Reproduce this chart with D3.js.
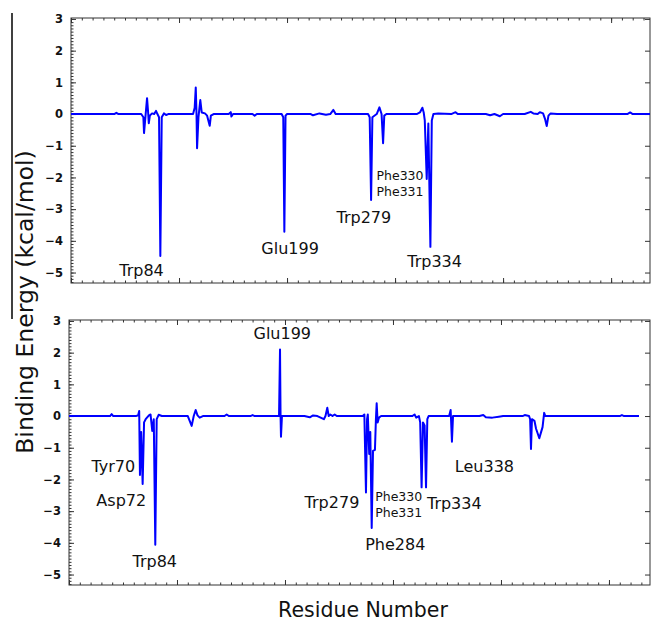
<!DOCTYPE html>
<html>
<head>
<meta charset="utf-8">
<script src="https://cdn.jsdelivr.net/npm/d3@7"></script>
<style>
  body { margin: 0; background: #fff; }
  text { font-family: "DejaVu Sans", sans-serif; fill: #111; }
</style>
</head>
<body>
<svg id="chart" width="652" height="626"></svg>
<script>
// Binding energy per residue, [residue, kcal/mol].
const topPanelData = [
  [0, 0], [40, 0], [42, 0.04], [44, 0], [65, 0], [67, -0.1], [67.6, -0.6], [69, -0.05],
  [70.4, 0.5], [71.5, 0], [72, -0.29], [73, -0.05], [75, 0.02], [77, 0], [78.7, 0.1],
  [80, 0], [81.5, -0.1], [82.7, -4.48], [84, -0.1], [86, 0.02], [88, -0.03], [90, 0],
  [113, 0], [114.5, 0.2], [115.5, 0.84], [116.2, 0], [116.7, -1.08], [118, -0.1],
  [119.7, 0.44], [121, 0.05], [124, 0.02], [126, -0.05], [128.4, -0.37], [129.5, -0.05],
  [132, 0], [146, 0], [147.9, 0.06], [148.5, -0.08], [150, 0], [168, 0], [170, -0.05],
  [172, 0], [195, 0], [196.5, -0.1], [197.5, -3.71], [198.6, -0.05], [200, 0], [222, 0],
  [224, -0.04], [230, 0.02], [236, -0.02], [240, 0], [242.9, 0.13], [245, 0], [275, 0],
  [276.5, -0.1], [277.8, -2.71], [279, -0.1], [283, 0], [285.5, 0.21], [287.5, 0],
  [288.9, -0.92], [290, -0.05], [292, 0], [320, 0], [323, 0.05], [325.3, 0.2],
  [326.5, 0.05], [327.5, -0.2], [329.3, -2.05], [330.8, -0.3], [332.7, -4.19], [334, -0.2],
  [335.5, 0], [340, 0.02], [352, 0], [356, 0.06], [358, 0], [384, 0], [388, -0.04],
  [392, 0], [397, -0.07], [400, 0], [420, 0], [425.6, 0.07], [428, 0.02], [432, 0],
  [434, 0.06], [437, 0.02], [438.8, -0.15], [440.4, -0.38], [442, -0.05], [444, 0.02],
  [450, 0], [515, 0], [517.6, 0.05], [520, 0], [536, 0]
];

const bottomPanelData = [
  [0, 0], [38, 0], [39.5, 0.06], [41, 0], [62, 0], [64, 0.02], [65, 0.16], [65.7, -1.86],
  [66.8, -0.5], [68.2, -2.14], [69.5, -0.2], [71, -0.1], [74, 0.02], [75.5, 0.05],
  [77.1, -0.47], [78.5, -0.1], [79.9, -4.06], [81.2, -0.1], [83, 0.04], [86, 0], [110, 0],
  [113.6, -0.31], [115.5, 0], [117.3, 0.19], [119, 0.02], [121, -0.05], [124, 0], [144, 0],
  [146, 0.05], [148, 0], [168, 0], [170, 0.03], [172, 0], [194.5, 0], [195.4, 2.1],
  [195.9, 0], [196.3, -0.65], [197.2, 0], [200, 0], [218, 0], [223, -0.04], [226, 0.02],
  [230, 0], [236, -0.1], [237.5, 0], [239.2, 0.26], [240.5, 0], [242, 0.05], [244, 0],
  [246, 0.05], [248, 0], [272, 0], [273.5, 0.05], [275, -2.41], [276, -0.1], [276.7, 0.05],
  [278, -1.2], [279, -0.5], [280.3, -3.53], [281.5, -1.1], [283.3, -1.07], [284.2, -0.1],
  [284.9, 0.4], [285.8, -0.2], [287, -0.05], [289, 0], [318, 0], [320, 0.05],
  [321.5, -0.05], [324, 0], [325.2, -0.2], [326.5, -2.25], [327.8, -0.2], [329.3, -0.3],
  [330.6, -2.25], [331.8, -0.1], [333, 0], [352, 0], [353.4, 0.19], [354.6, -0.81],
  [355.6, 0], [358, 0], [380, 0], [383.6, 0.03], [386, -0.04], [392, -0.05], [398, -0.02],
  [402, 0], [420, 0], [422, 0.03], [426, 0], [427, -0.1], [427.8, -1.04], [428.7, -0.1],
  [431, -0.15], [432.5, -0.4], [435.5, -0.7], [437.2, -0.5], [438.5, -0.35], [440, 0.1],
  [441, 0], [460, 0], [510, 0], [512, 0.03], [514, 0], [527.8, 0]
];

// Residue labels: [text, residue, energy] of the text anchor.
const topLabels = [
  ["Trp84", 65.3, -5.11], ["Glu199", 202.8, -4.42], ["Trp279", 271.1, -3.43],
  ["Trp334", 336.6, -4.82]
];
const topSmallLabels = [["Phe330", 304.6, -2.08], ["Phe331", 304.6, -2.58]];
const bottomLabels = [
  ["Glu199", 197.5, 2.44], ["Tyr70", 41, -1.75], ["Asp72", 48.4, -2.83],
  ["Trp84", 79.4, -4.76], ["Trp279", 243.5, -2.9], ["Trp334", 356.8, -2.93],
  ["Phe284", 302.1, -4.24], ["Leu338", 384.7, -1.78]
];
const bottomSmallLabels = [["Phe330", 305.3, -2.69], ["Phe331", 305.3, -3.17]];

const energyTicks = [-5, -4, -3, -2, -1, 0, 1, 2, 3];
const residueTicks = [0, 100, 200, 300, 400, 500];
const energyDomain = [-5.33, 3.03];

let svg = d3.select("#chart");

// Draws one framed panel with its curve and labels.
function drawPanel(opts) {
  const x = d3.scaleLinear().domain(opts.xDomain).range([opts.left, opts.right]);
  const y = d3.scaleLinear().domain(energyDomain).range([opts.bottom, opts.top]);
  const g = svg.append("g");

  const minorY = d3.range(-53, 31).map(d => d / 10);
  const minorX = d3.range(0, opts.xDomain[1], 10);

  const axes = [
    { axis: d3.axisLeft(y).tickValues(minorY).tickSize(-2.5).tickFormat(""), at: `translate(${opts.left},0)` },
    { axis: d3.axisLeft(y).tickValues(energyTicks).tickSize(-5).tickPadding(8).tickFormat(d3.format("d")), at: `translate(${opts.left},0)`, labels: true },
    { axis: d3.axisRight(y).tickValues(energyTicks).tickSize(-5).tickFormat(""), at: `translate(${opts.right},0)` },
    { axis: d3.axisTop(x).tickValues(minorX).tickSize(-2.5).tickFormat(""), at: `translate(0,${opts.top})` },
    { axis: d3.axisTop(x).tickValues(residueTicks).tickSize(-5).tickFormat(""), at: `translate(0,${opts.top})` },
    { axis: d3.axisBottom(x).tickValues(minorX).tickSize(-2.5).tickFormat(""), at: `translate(0,${opts.bottom})` },
    { axis: d3.axisBottom(x).tickValues(residueTicks).tickSize(-5).tickFormat(""), at: `translate(0,${opts.bottom})` }
  ];

  axes.forEach(a => {
    const ag = g.append("g").attr("transform", a.at).call(a.axis.tickSizeOuter(0));
    ag.select(".domain").remove();
    ag.selectAll("line").attr("stroke", "#333");
    if (a.labels) {
      ag.selectAll("text")
        .style("font-family", "DejaVu Sans")
        .style("font-weight", "bold")
        .style("font-size", "11.5px")
        .attr("fill", "#222");
    }
  });

  g.append("rect") // Frame round the plot area.
    .attr("x", opts.left)
    .attr("y", opts.top)
    .attr("width", opts.right - opts.left)
    .attr("height", opts.bottom - opts.top)
    .attr("fill", "none")
    .attr("stroke", "#333")
    .attr("stroke-width", 1);

  const line = d3.line().x(d => x(d[0])).y(d => y(d[1]));
  g.append("path")
    .datum(opts.data)
    .attr("d", line)
    .attr("fill", "none")
    .attr("stroke", "#0000ff")
    .attr("stroke-width", 2)
    .attr("stroke-linejoin", "round");

  [[opts.labels, 16], [opts.smallLabels, 12.5]].forEach(([list, size]) => {
    g.append("g")
      .selectAll("text")
      .data(list)
      .join("text")
      .attr("x", d => x(d[1]))
      .attr("y", d => y(d[2]))
      .attr("text-anchor", "middle")
      .style("font-size", `${size}px`)
      .text(d => d[0]);
  });
}

drawPanel({
  data: topPanelData, labels: topLabels, smallLabels: topSmallLabels,
  xDomain: [0, 536], left: 71, right: 650, top: 18, bottom: 283
});
drawPanel({
  data: bottomPanelData, labels: bottomLabels, smallLabels: bottomSmallLabels,
  xDomain: [0, 538], left: 69, right: 650, top: 320, bottom: 585
});

// Stray line along the left edge of the figure.
svg.append("line")
  .attr("x1", 12).attr("x2", 12).attr("y1", 13).attr("y2", 319)
  .attr("stroke", "#000").attr("stroke-width", 1.5);

// Axis titles.
svg.append("text")
  .attr("transform", "translate(33,302) rotate(-90)")
  .attr("text-anchor", "middle")
  .style("font-size", "23.5px")
  .text("Binding Energy (kcal/mol)");

svg.append("text")
  .attr("x", 363)
  .attr("y", 617)
  .attr("text-anchor", "middle")
  .style("font-size", "20.5px")
  .text("Residue Number");
</script>
</body>
</html>
